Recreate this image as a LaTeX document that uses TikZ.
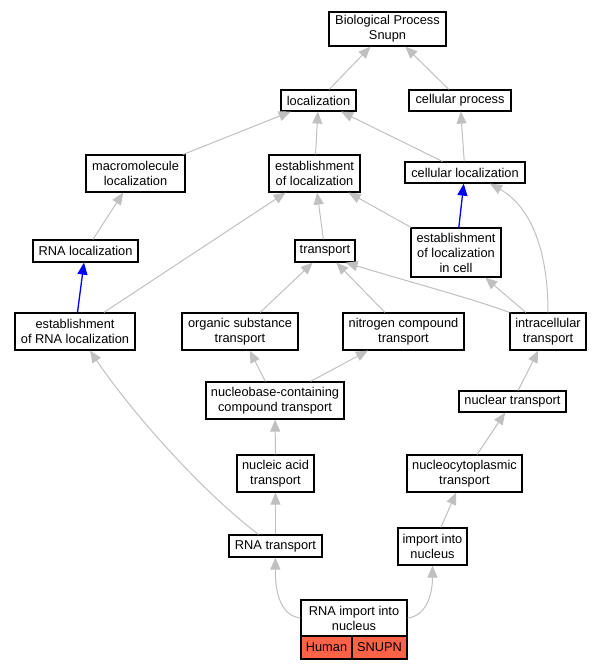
\documentclass[tikz,border=0pt]{standalone}
\usepackage{fontspec}
\setmainfont{Liberation Sans}
\usetikzlibrary{arrows.meta}
\definecolor{edgegray}{RGB}{192,192,192}
\definecolor{tomatored}{RGB}{255,99,71}
\tikzset{
  box/.style={draw=black, line width=1.2pt, fill=white, inner sep=0pt, align=center,
    font=\fontsize{12.8}{15}\selectfont},
  edge/.style={draw=edgegray, line width=1pt, -{Triangle[length=12pt,width=10pt,fill=edgegray]}},
  bedge/.style={draw=blue, line width=1.3pt, -{Triangle[length=12pt,width=10pt,fill=blue]}},
}
\begin{document}
\begin{tikzpicture}[x=1pt,y=-1pt]
\useasboundingbox (0,0) rectangle (601,669);
% nodes
\node[box, minimum width=117pt, minimum height=34pt] (bp) at (387.5,29) {Biological Process\\Snupn};
\node[box, minimum width=75pt, minimum height=21pt] (loc) at (318.5,100.5) {localization};
\node[box, minimum width=102pt, minimum height=21pt] (cp) at (460,100.5) {cellular process};
\node[box, minimum width=99pt, minimum height=37pt] (macro) at (135.5,173.5) {macromolecule\\localization};
\node[box, minimum width=91pt, minimum height=37pt] (estloc) at (314.5,173.5) {establishment\\of localization};
\node[box, minimum width=120pt, minimum height=21pt] (cellloc) at (465,172.5) {cellular localization};
\node[box, minimum width=105pt, minimum height=22pt] (rnaloc) at (85.5,251) {RNA localization};
\node[box, minimum width=60pt, minimum height=22pt] (transport) at (325,251) {transport};
\node[box, minimum width=90pt, minimum height=49pt] (estcell) at (456,252.5) {establishment\\of localization\\in cell};
\node[box, minimum width=120pt, minimum height=37pt] (estrna) at (75,331.5) {establishment\\of RNA localization};
\node[box, minimum width=116pt, minimum height=37pt] (organic) at (240,331.5) {organic substance\\transport};
\node[box, minimum width=121pt, minimum height=37pt] (nitrogen) at (403.5,331.5) {nitrogen compound\\transport};
\node[box, minimum width=76pt, minimum height=37pt] (intra) at (548,331.5) {intracellular\\transport};
\node[box, minimum width=138pt, minimum height=37pt] (nucleobase) at (275,400.5) {nucleobase-containing\\compound transport};
\node[box, minimum width=107pt, minimum height=21pt] (nuclear) at (512.5,401.5) {nuclear transport};
\node[box, minimum width=77pt, minimum height=37pt] (nucleic) at (275.5,473.5) {nucleic acid\\transport};
\node[box, minimum width=115pt, minimum height=37pt] (nucleocyto) at (464.5,473.5) {nucleocytoplasmic\\transport};
\node[box, minimum width=93pt, minimum height=22pt] (rnatr) at (275.5,546) {RNA transport};
\node[box, minimum width=69pt, minimum height=37pt] (import) at (432.5,546.5) {import into\\nucleus};
\node[box, minimum width=106pt, minimum height=36pt] (rnaimp) at (354,618) {RNA import into\\nucleus};
\node[box, fill=tomatored, minimum width=51pt, minimum height=23pt] (human) at (326.5,647.5) {Human};
\node[box, fill=tomatored, minimum width=55pt, minimum height=23pt] (snupn) at (379.5,647.5) {SNUPN};
% edges
\draw[edge] (loc) -- (bp);
\draw[edge] (cp) -- (bp);
\draw[edge] (macro) -- (loc);
\draw[edge] (estloc) -- (loc);
\draw[edge] (cellloc) -- (loc);
\draw[edge] (cellloc) -- (cp);
\draw[edge] (rnaloc) -- (macro);
\draw[edge] (transport) -- (estloc);
\draw[edge] (estcell) -- (estloc);
\draw[bedge] (estcell) -- (cellloc);
\draw[edge] (intra.north) .. controls (548,245) and (528,205) .. ([xshift=25pt]cellloc.south);
\draw[bedge] (estrna) -- (rnaloc);
\draw[edge] (estrna) -- (estloc);
\draw[edge] (organic) -- (transport);
\draw[edge] (nitrogen) -- (transport);
\draw[edge] (intra.north west) .. controls (470,298) and (420,285) .. ([xshift=-10pt]transport.south east);
\draw[edge] (intra) -- (estcell);
\draw[edge] (nucleobase) -- (organic);
\draw[edge] (nucleobase) -- (nitrogen);
\draw[edge] (nuclear) -- (intra);
\draw[edge] (nucleic) -- (nucleobase);
\draw[edge] (nucleocyto) -- (nuclear);
\draw[edge] (rnatr) -- (nucleic);
\draw[edge] ([xshift=-17pt]rnatr.north) .. controls (200,490) and (130,410) .. ([xshift=15pt]estrna.south);
\draw[edge] (import) -- (nucleocyto);
\draw[edge] (rnaimp.west) .. controls (282,616) and (275,595) .. (rnatr.south);
\draw[edge] (rnaimp.east) .. controls (426,616) and (432.5,595) .. (import.south);
\end{tikzpicture}
\end{document}
